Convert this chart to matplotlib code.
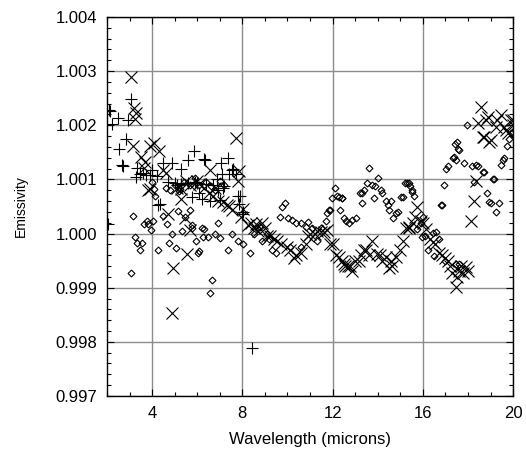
import matplotlib
matplotlib.use("Agg")
import matplotlib.pyplot as plt
from matplotlib.ticker import MultipleLocator, FormatStrFormatter

plt.rcParams['font.family'] = ['Liberation Sans', 'DejaVu Sans']

# ---- data ----
plus_x = [2.09, 2.13, 2.47, 2.2, 2.93, 3.05, 2.84, 2.53, 2.67, 2.72, 3.33, 3.29, 3.6, 3.45,
          4.2, 4.5, 4.9, 5.3, 5.6, 5.87, 6.3, 6.36, 7.07, 7.36, 7.58, 6.2, 6.58, 7.16, 7.9,
          7.98, 8.05, 8.44, 2.03, 4.27, 4.35, 5.3, 4.7, 5.0, 5.6, 5.9, 6.0, 6.4, 6.9, 7.1,
          7.7, 7.4, 6.7, 4.0, 3.9, 3.75, 7.85, 6.1, 7.0, 5.1, 5.76, 6.87, 7.2, 7.81, 7.54]
plus_y = [1.00228, 1.00226, 1.00214, 1.00202, 1.00209, 1.00248, 1.00174, 1.00156, 1.00126,
          1.00124, 1.00122, 1.00104, 1.00111, 1.00110, 1.00107, 1.00131, 1.00131, 1.00120,
          1.00135, 1.00152, 1.00137, 1.00135, 1.00130, 1.00139, 1.00120, 1.00063, 1.00060,
          1.00085, 1.00070, 1.00037, 1.00040, 0.99789, 1.00017, 1.00052, 1.00055, 1.00092,
          1.00095, 1.00093, 1.00094, 1.00096, 1.00093, 1.00092, 1.00080, 1.00110, 1.00110,
          1.00110, 1.00090, 1.00117, 1.00108, 1.00109, 1.00055, 1.00075, 1.00062, 1.00090,
          1.00067, 1.00101, 1.00087, 1.00069, 1.00118]

cross_x = [3.05, 3.2, 3.3, 3.25, 3.15, 3.5, 3.62, 3.7, 3.9, 4.1, 4.3, 4.5, 4.6, 3.91, 3.8,
           4.7, 5.56, 4.93, 4.9, 5.3, 5.47, 5.69, 5.98, 6.1, 6.58, 6.8, 7.16, 7.54, 7.82,
           7.7, 7.85, 8.04, 8.27, 8.89, 9.24, 9.54, 9.98, 10.27, 10.58, 11.02, 11.47, 11.76,
           12.04, 12.49, 10.93, 11.3, 11.9, 12.27, 12.67, 12.87, 13.38, 13.76, 13.98, 14.36,
           14.49, 14.8, 15.1, 15.38, 13.16, 15.76, 15.9, 15.39, 16.13, 16.43, 16.7, 17.0,
           17.3, 17.5, 17.9, 17.8, 17.47, 18.27, 18.13, 18.36, 18.58, 18.8, 18.7, 19.0,
           19.24, 19.47, 19.7, 19.98, 18.87, 19.3, 19.9, 18.65, 18.93, 19.6, 19.76, 18.43,
           19.99, 5.1, 5.3, 5.5, 5.7, 6.3, 6.5, 6.7, 6.9, 7.3, 7.4, 7.95, 8.5, 8.7, 9.0,
           9.4, 9.7, 10.1, 10.4, 10.8, 11.2, 11.6, 12.15, 12.4, 12.55, 12.75, 13.0, 13.25,
           13.5, 13.6, 14.1, 14.2, 14.6, 14.65, 15.0, 15.25, 15.55, 15.65, 16.0, 16.3,
           16.55, 16.85, 17.1, 17.2, 17.6, 17.7, 18.0, 9.1, 8.4, 8.6]
cross_y = [1.00290, 1.00232, 1.00222, 1.00212, 1.00162, 1.00142, 1.00122, 1.00132, 1.00162,
           1.00168, 1.00152, 1.00118, 1.00112, 1.00082, 1.00080, 1.00037, 0.99963, 0.99937,
           0.99854, 1.00063, 1.00028, 1.00006, 1.00098, 1.00092, 1.00117, 1.00085, 1.00058,
           1.00043, 1.00098, 1.00176, 1.00115, 1.00046, 1.00015, 1.00019, 0.99996, 0.99987,
           0.99975, 0.99954, 0.99965, 1.00000, 1.00002, 1.00006, 0.99981, 0.99944, 0.99996,
           1.00004, 0.99981, 0.99956, 0.99941, 0.99931, 0.99969, 0.99987, 0.99963, 0.99956,
           0.99937, 0.99956, 0.99987, 1.00011, 0.99950, 1.00049, 1.00024, 1.00012, 1.00009,
           0.99984, 0.99965, 0.99954, 0.99928, 0.99920, 0.99938, 0.99928, 0.99901, 1.00061,
           1.00024, 1.00098, 1.00234, 1.00209, 1.00178, 1.00172, 1.00197, 1.00219, 1.00191,
           1.00209, 1.00215, 1.00209, 1.00210, 1.00178, 1.00169, 1.00197, 1.00185, 1.00204,
           1.00200, 1.00085, 1.00082, 1.00097, 1.00090, 1.00085, 1.00075, 1.00070, 1.00060,
           1.00052, 1.00050, 1.00030, 1.00010, 1.00005, 1.00010, 0.99990, 0.99980, 0.99970,
           0.99960, 0.99980, 1.00000, 1.00002, 0.99960, 0.99950, 0.99940, 0.99940, 0.99950,
           0.99960, 0.99970, 0.99960, 0.99960, 0.99950, 0.99950, 0.99940, 0.99970, 1.00010,
           1.00020, 1.00030, 1.00020, 0.99990, 0.99980, 0.99960, 0.99950, 0.99940, 0.99930,
           0.99940, 0.99930, 0.99995, 1.00020, 1.00018]

diam_x = [3.07, 3.16, 3.24, 3.35, 3.54, 3.47, 3.64, 3.76, 3.82, 3.96, 4.04, 4.13, 4.25, 4.5,
          4.65, 4.76, 4.87, 5.05, 5.16, 5.24, 5.33, 5.47, 5.69, 5.78, 5.96, 6.09, 6.2, 6.27,
          6.47, 6.58, 6.65, 6.8, 5.76, 6.05, 6.3, 6.93, 7.02, 7.38, 7.54, 7.82, 8.04, 8.36,
          8.5, 8.65, 8.8, 8.87, 9.1, 9.2, 9.47, 9.69, 9.76, 9.91, 10.03, 10.2, 10.4, 10.58,
          10.8, 10.93, 11.1, 11.32, 11.5, 11.69, 11.76, 11.82, 11.9, 11.98, 12.09, 12.2,
          12.27, 12.4, 12.43, 12.31, 12.49, 12.6, 12.71, 12.85, 13.02, 13.2, 13.3, 13.38,
          13.32, 13.51, 13.6, 13.76, 13.9, 14.03, 14.13, 14.2, 13.82, 14.36, 14.47, 14.49,
          14.6, 14.8, 14.7, 14.9, 15.02, 15.1, 15.2, 15.3, 15.39, 15.45, 15.51, 15.54, 15.6,
          15.76, 15.98, 16.1, 16.25, 16.43, 16.5, 16.58, 16.7, 16.8, 16.85, 16.93, 17.02,
          17.1, 17.32, 17.38, 17.42, 17.47, 17.5, 17.58, 17.62, 17.82, 17.98, 18.16, 18.36,
          18.43, 18.65, 18.7, 18.27, 19.1, 19.14, 18.84, 18.93, 19.02, 19.24, 19.36, 19.47,
          19.54, 19.6, 19.72, 19.8, 19.9, 19.98, 17.47, 17.6, 17.0, 4.6, 4.8, 5.0, 5.2, 5.4,
          5.7, 5.9, 6.1, 6.4, 6.6, 6.8, 7.0, 7.2, 4.0, 4.1, 9.3, 10.1, 10.6, 15.9, 16.0]
diam_y = [0.99928, 1.00033, 0.99993, 0.99982, 0.99982, 0.99969, 1.00017, 1.00023, 1.00017,
          1.00007, 1.00023, 1.00070, 0.99969, 1.00033, 1.00017, 0.99982, 1.00000, 0.99974,
          1.00041, 1.00083, 1.00004, 1.00030, 1.00044, 1.00011, 0.99987, 0.99967, 1.00011,
          0.99994, 0.99994, 0.99891, 0.99915, 1.00000, 1.00015, 0.99965, 1.00009, 1.00019,
          0.99991, 0.99969, 1.00000, 0.99987, 0.99981, 0.99965, 1.00000, 1.00010, 1.00012,
          0.99987, 1.00000, 0.99990, 0.99965, 1.00030, 1.00049, 1.00057, 1.00028, 1.00025,
          1.00020, 1.00020, 1.00013, 1.00021, 1.00010, 0.99987, 1.00010, 1.00024, 1.00038,
          1.00043, 1.00043, 1.00065, 1.00084, 1.00070, 1.00067, 1.00065, 1.00065, 1.00043,
          1.00028, 1.00024, 1.00020, 1.00025, 1.00028, 1.00075, 1.00074, 1.00081, 1.00056,
          1.00093, 1.00122, 1.00089, 1.00088, 1.00102, 1.00080, 1.00075, 1.00065, 1.00060,
          1.00052, 1.00044, 1.00060, 1.00038, 1.00028, 1.00040, 1.00067, 1.00068, 1.00093,
          1.00093, 1.00093, 1.00088, 1.00081, 1.00077, 1.00070, 1.00009, 0.99993, 0.99995,
          0.99969, 1.00001, 0.99959, 1.00002, 0.99990, 1.00052, 1.00052, 1.00089, 1.00120,
          1.00125, 1.00139, 1.00141, 1.00165, 1.00136, 1.00169, 1.00157, 1.00155, 1.00130,
          1.00200, 1.00124, 1.00126, 1.00124, 1.00114, 1.00114, 1.00095, 1.00100, 1.00100,
          1.00074, 1.00058, 1.00056, 1.00040, 1.00056, 1.00126, 1.00135, 1.00139, 1.00161,
          1.00175, 1.00185, 1.00188, 0.99944, 0.99944, 0.99950, 1.00085, 1.00080, 1.00089,
          1.00078, 1.00095, 1.00090, 1.00102, 1.00090, 1.00095, 1.00088, 1.00080, 1.00098,
          1.00090, 1.00095, 1.00082, 0.99970, 0.99975, 0.99975, 1.00020, 1.00030]

x_ticks = [4, 8, 12, 16, 20]
y_ticks = [0.997, 0.998, 0.999, 1.000, 1.001, 1.002, 1.003, 1.004]

fig = plt.figure(figsize=(5.26, 4.51), dpi=100)
ax = fig.add_axes([0.2034, 0.122, 0.772, 0.8403])

ax.plot(diam_x, diam_y, linestyle='none', marker='D', markersize=3.5,
        markerfacecolor='none', markeredgecolor='black', markeredgewidth=0.8, zorder=3)
ax.plot(plus_x, plus_y, linestyle='none', marker='+', markersize=8,
        color='black', markeredgewidth=0.8, zorder=3)
ax.plot(cross_x, cross_y, linestyle='none', marker='x', markersize=8,
        color='black', markeredgewidth=0.8, zorder=3)

ax.set_xlim(2, 20)
ax.set_ylim(0.997, 1.004)
ax.set_xticks(x_ticks)
ax.set_yticks(y_ticks)
ax.xaxis.set_minor_locator(MultipleLocator(1))
ax.yaxis.set_minor_locator(MultipleLocator(0.0002))
ax.yaxis.set_major_formatter(FormatStrFormatter('%.3f'))
ax.tick_params(which='both', direction='in', top=True, right=True,
               labelsize=12, width=0.8, color='black')
ax.tick_params(which='major', length=5, pad=7)
ax.tick_params(which='minor', length=3)
ax.grid(True, which='major', color='#8c8c8c', linewidth=1.0)
ax.set_axisbelow(True)
for s in ax.spines.values():
    s.set_linewidth(1.0)

ax.set_xlabel('Wavelength (microns)', fontsize=12, labelpad=8)
ax.set_ylabel('Emissivity', fontsize=10, labelpad=20)

fig.savefig('out.png', dpi=100)
